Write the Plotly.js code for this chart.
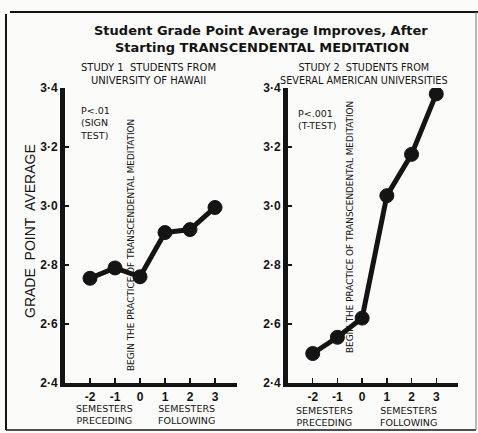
<!DOCTYPE html>
<html>
<head>
<meta charset="utf-8">
<script src="https://cdn.plot.ly/plotly-3.0.1.min.js"></script>
<style>html,body{margin:0;padding:0;background:#fbfbf9;}#chart{width:478px;height:433px;}</style>
</head>
<body>
<div id="chart"></div>
<script>
// ---- data ----
const semesters = [-2, -1, 0, 1, 2, 3];
const study1GPA = [2.755, 2.79, 2.76, 2.91, 2.92, 2.995];
const study2GPA = [2.50, 2.555, 2.62, 3.035, 3.175, 3.38];
const xTickVals = [-2, -1, 0, 1, 2, 3];
const xTickText = ['-2', '-1', '0', '1', '2', '3'];
const yTickVals = [2.4, 2.6, 2.8, 3.0, 3.2, 3.4];
const yTickText = ['2·4', '2·6', '2·8', '3·0', '3·2', '3·4'];
const titleLines = ['Student Grade Point Average Improves, After', 'Starting TRANSCENDENTAL MEDITATION'];
const study1Label = 'STUDY 1  STUDENTS FROM<br>UNIVERSITY OF HAWAII';
const study2Label = 'STUDY 2  STUDENTS FROM<br>SEVERAL AMERICAN UNIVERSITIES';
const study1Stat = 'P<.01<br>(SIGN<br>TEST)';
const study2Stat = 'P<.001<br>(T-TEST)';
const beginLabel = 'BEGIN THE PRACTICE OF TRANSCENDENTAL MEDITATION';
const yTitle = 'GRADE  POINT  AVERAGE';
const precedingLabel = 'SEMESTERS<br>PRECEDING';
const followingLabel = 'SEMESTERS<br>FOLLOWING';

const W = 478, H = 433;
const px = x => x / W;
const py = y => 1 - y / H;
const ink = '#141414';
const FONT = 'Liberation Sans, Arial, sans-serif';
const WIDE = 'DejaVu Sans, Verdana, sans-serif';

const lineStyle = {color: ink, width: 5};
const markerStyle = {color: ink, size: 14, line: {color: ink, width: 1}};

const traces = [
  {x: semesters, y: study1GPA, xaxis: 'x', yaxis: 'y', mode: 'lines+markers', line: lineStyle, marker: markerStyle, hoverinfo: 'x+y'},
  {x: semesters, y: study2GPA, xaxis: 'x2', yaxis: 'y2', mode: 'lines+markers', line: lineStyle, marker: markerStyle, hoverinfo: 'x+y'}
];

function xAxis(d0, d1, anchor) {
  return {
    domain: [d0, d1], anchor: anchor, range: [-3, 3.88],
    showgrid: false, zeroline: false, showline: true, linecolor: ink, linewidth: 4,
    ticks: 'inside', ticklen: 5, tickwidth: 1.5, tickcolor: ink,
    tickvals: xTickVals, ticktext: xTickText,
    tickfont: {family: FONT, size: 12, color: ink, weight: 700},
    fixedrange: true
  };
}
function yAxis(anchor) {
  return {
    domain: [py(383), py(88)], anchor: anchor, range: [2.4, 3.4],
    showgrid: false, zeroline: false, showline: true, linecolor: ink, linewidth: 5,
    ticks: 'inside', ticklen: 4, tickwidth: 1.5, tickcolor: ink,
    tickvals: yTickVals, ticktext: yTickText,
    tickfont: {family: FONT, size: 12, color: ink, weight: 700},
    fixedrange: true
  };
}

const annotations = [];
function ann(text, x, y, opts) {
  annotations.push(Object.assign({
    text: text, xref: 'paper', yref: 'paper', x: px(x), y: py(y),
    showarrow: false, xanchor: 'center', yanchor: 'middle',
    font: {family: WIDE, size: 9, color: ink}
  }, opts || {}));
}
ann(titleLines[0], 261, 31, {font: {family: WIDE, size: 13, color: ink, weight: 700}});
ann(titleLines[1], 262, 47, {font: {family: WIDE, size: 13, color: ink, weight: 700}});
ann(study1Label, 148, 74, {font: {family: WIDE, size: 10, color: ink}});
ann(study2Label, 364, 74, {font: {family: WIDE, size: 9.7, color: ink}});
ann(study1Stat, 78, 123, {xanchor: 'left', align: 'left', font: {family: WIDE, size: 9.5, color: ink}});
ann(study2Stat, 296, 119, {xanchor: 'left', align: 'left', font: {family: WIDE, size: 9.5, color: ink}});
ann(beginLabel, 131, 245, {textangle: -90, font: {family: WIDE, size: 8.9, color: ink}});
ann(beginLabel, 350, 227, {textangle: -90, font: {family: WIDE, size: 8.9, color: ink}});
ann(yTitle, 30, 231, {textangle: -90, font: {family: FONT, size: 14, color: ink}});
ann(precedingLabel, 104, 414, {font: {family: WIDE, size: 9.5, color: ink}});
ann(followingLabel, 186, 414, {font: {family: WIDE, size: 9.5, color: ink}});
ann(precedingLabel, 324, 416, {font: {family: WIDE, size: 9.5, color: ink}});
ann(followingLabel, 408, 416, {font: {family: WIDE, size: 9.5, color: ink}});

const shapes = [
  {type: 'line', xref: 'paper', yref: 'paper', x0: px(10), x1: px(478), y0: py(12), y1: py(12), line: {color: ink, width: 2}},
  {type: 'line', xref: 'paper', yref: 'paper', x0: px(6), x1: px(6), y0: py(14), y1: py(430), line: {color: ink, width: 2}},
  {type: 'line', xref: 'paper', yref: 'paper', x0: px(6), x1: px(476), y0: py(430), y1: py(430), line: {color: ink, width: 1.5}},
  {type: 'line', xref: 'paper', yref: 'paper', x0: px(476), x1: px(476), y0: py(12), y1: py(430), line: {color: '#777', width: 1}}
];

const layout = {
  width: W, height: H,
  margin: {l: 0, r: 0, t: 0, b: 0, pad: 0},
  paper_bgcolor: '#fbfbf9', plot_bgcolor: 'rgba(0,0,0,0)',
  showlegend: false,
  xaxis: xAxis(px(65), px(237), 'y'),
  yaxis: yAxis('x'),
  xaxis2: xAxis(px(288), px(458), 'y2'),
  yaxis2: yAxis('x2'),
  annotations: annotations,
  shapes: shapes,
  font: {family: FONT, color: ink}
};

Plotly.newPlot('chart', traces, layout, {displayModeBar: false, staticPlot: true});
</script>
</body>
</html>
